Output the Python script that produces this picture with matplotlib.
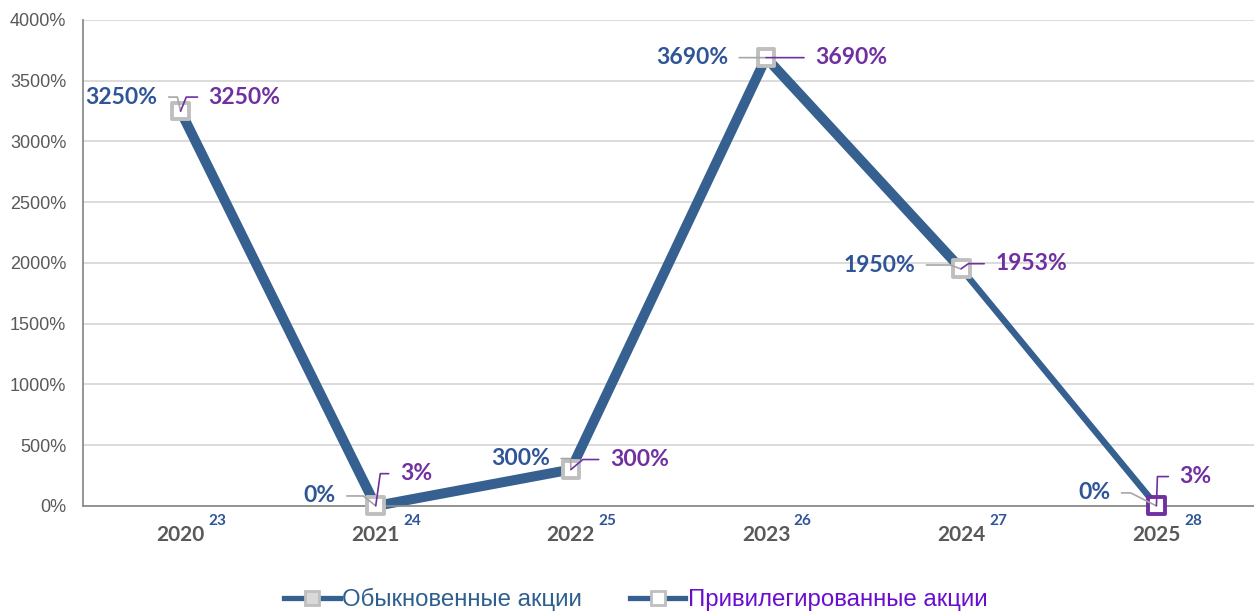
import matplotlib.pyplot as plt
from matplotlib.lines import Line2D

# ============ DATA ============
years = ["2020", "2021", "2022", "2023", "2024", "2025"]
year_notes = ["23", "24", "25", "26", "27", "28"]
common = [3250, 0, 300, 3690, 1950, 0]        # Обыкновенные акции
preferred = [3250, 3, 300, 3690, 1953, 3]     # Привилегированные акции
y_ticks = [0, 500, 1000, 1500, 2000, 2500, 3000, 3500, 4000]

# ============ STYLE ============
LINE = '#35608F'
BLUE_TXT = '#2F5597'
PURPLE = '#7030A0'
GRAY_MK = '#BFBFBF'
TICK_GRAY = '#595959'

# label offsets (points) and leader-line angles
common_off = [(-16.6, 10.1), (-28.8, 7.2), (-15.1, 7.9), (-27.4, 0), (-33.1, 2.9), (-33.1, 9.4)]
common_ang = [103, 141, 92, None, 160, 153]
pref_off = [(20.2, 10.1), (17.3, 23.0), (28.0, 7.2), (35.3, 0), (24.5, 3.6), (16.6, 20.9)]
pref_ang = [68, 82, 40, None, 35, 88]

fig = plt.figure(figsize=(12.54, 6.13), dpi=100)
ax = fig.add_axes([0.0662, 0.1746, 0.9338, 0.7928])

x = list(range(len(years)))

# lines: common series thicker (drawn up to 2024), preferred thinner over full range
ax.plot(x[:5], common[:5], color=LINE, lw=7.2, solid_capstyle='butt', solid_joinstyle='miter',
        zorder=2, clip_on=False)
ax.plot(x, preferred, color=LINE, lw=4.6, solid_capstyle='butt', zorder=2, clip_on=False)

mk_edges = [GRAY_MK] * 5 + [PURPLE]
ax.scatter(x, preferred, marker='s', s=145, facecolors='white', edgecolors=mk_edges,
           linewidths=2.8, zorder=3, clip_on=False)

lab_font = dict(family='Lato', weight='bold', size=16.5)
for i in x:
    dx, dy = common_off[i]
    cs = 'arc3' if common_ang[i] is None else f'angle,angleA=0,angleB={common_ang[i]},rad=0'
    ax.annotate(f"{common[i]}%", xy=(i, common[i]), xytext=(dx, dy), textcoords='offset points',
                ha='right', va='center', color=BLUE_TXT, zorder=4, **lab_font,
                arrowprops=dict(arrowstyle='-', color='#A6A6A6', lw=1.2, shrinkA=6, shrinkB=0,
                                relpos=(1, 0.5), connectionstyle=cs))
    dx, dy = pref_off[i]
    cs = 'arc3' if pref_ang[i] is None else f'angle,angleA=0,angleB={pref_ang[i]},rad=0'
    ax.annotate(f"{preferred[i]}%", xy=(i, preferred[i]), xytext=(dx, dy), textcoords='offset points',
                ha='left', va='center', color=PURPLE, zorder=4, **lab_font,
                arrowprops=dict(arrowstyle='-', color=PURPLE, lw=1.2, shrinkA=6, shrinkB=0,
                                relpos=(0, 0.5), connectionstyle=cs))

# axes
ax.set_xlim(-0.5, 5.5)
ax.set_ylim(0, 4000)
ax.set_yticks(y_ticks)
ax.set_yticklabels([f"{v}%" for v in y_ticks], family='Liberation Sans', fontsize=13, color=TICK_GRAY)
ax.tick_params(axis='y', length=0, pad=12)
ax.set_xticks([])
ax.grid(axis='y', color='#D9D9D9', lw=1.3)
ax.set_axisbelow(True)
for s in ['top', 'right']:
    ax.spines[s].set_visible(False)
ax.spines['left'].set_color('#8C8C8C')
ax.spines['left'].set_linewidth(1.3)
ax.spines['bottom'].set_color('#8C8C8C')
ax.spines['bottom'].set_linewidth(1.3)

# category labels with small superscripts
for i in x:
    ax.annotate(years[i], xy=(i, 0), xycoords=('data', 'axes fraction'), xytext=(0, -21),
                textcoords='offset points', ha='center', va='center',
                family='Lato', weight='bold', fontsize=15, color=TICK_GRAY, annotation_clip=False)
    ax.annotate(year_notes[i], xy=(i, 0), xycoords=('data', 'axes fraction'), xytext=(20, -10.5),
                textcoords='offset points', ha='left', va='center',
                family='Lato', weight='bold', fontsize=11, color=BLUE_TXT, annotation_clip=False)

# legend
handles = [
    Line2D([], [], color=LINE, lw=3.8, marker='s', markersize=10, markerfacecolor='#D9D9D9',
           markeredgecolor=GRAY_MK, markeredgewidth=2),
    Line2D([], [], color=LINE, lw=3.8, marker='s', markersize=10, markerfacecolor='white',
           markeredgecolor=GRAY_MK, markeredgewidth=2),
]
fig.legend(handles, ["Обыкновенные акции", "Привилегированные акции"], loc='center',
           bbox_to_anchor=(0.507, 0.022), ncol=2, frameon=False, handlelength=2.3,
           handletextpad=0.1, columnspacing=2.0, labelcolor=['#2F5F8F', '#6A0DCF'],
           prop=dict(family='Liberation Sans', size=17.3))

fig.savefig('out.png', dpi=100)
